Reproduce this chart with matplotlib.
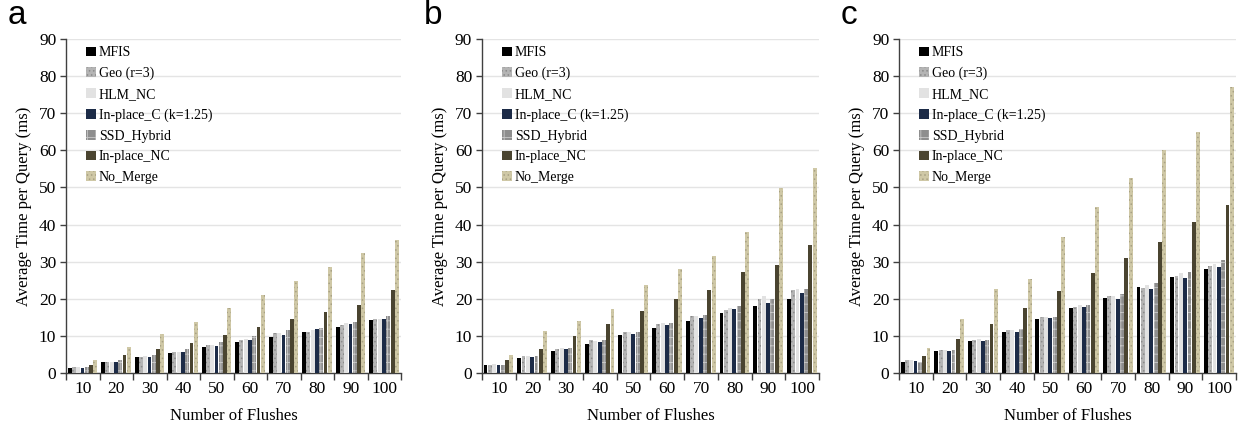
import matplotlib
matplotlib.use("Agg")
import matplotlib.pyplot as plt
import numpy as np

flushes = ["10", "20", "30", "40", "50", "60", "70", "80", "90", "100"]
series_names = ["MFIS", "Geo (r=3)", "HLM_NC", "In-place_C (k=1.25)", "SSD_Hybrid", "In-place_NC", "No_Merge"]

# Panel a
a_mfis = [1.3, 3.0, 4.1, 5.3, 6.8, 8.3, 9.7, 11.0, 12.2, 14.2]
a_geo = [1.4, 3.0, 4.3, 5.7, 7.4, 8.8, 10.6, 11.1, 13.0, 14.4]
a_hlm = [1.4, 3.0, 4.4, 5.7, 7.4, 9.0, 10.6, 11.6, 13.4, 14.6]
a_inc = [1.3, 2.9, 4.2, 5.6, 7.3, 8.8, 10.3, 11.7, 13.1, 14.6]
a_ssd = [1.5, 3.3, 4.8, 6.4, 8.2, 9.9, 11.5, 12.1, 13.7, 15.3]
a_innc = [2.0, 4.7, 6.4, 7.9, 10.2, 12.2, 14.4, 16.3, 18.4, 22.3]
a_nomerge = [3.3, 6.8, 10.4, 13.8, 17.4, 20.9, 24.7, 28.4, 32.2, 35.8]

# Panel b
b_mfis = [2.0, 4.0, 5.8, 7.7, 10.1, 12.0, 14.0, 16.0, 18.0, 19.9]
b_geo = [2.2, 4.4, 6.5, 8.7, 11.0, 13.2, 15.4, 16.8, 19.8, 22.2]
b_hlm = [2.3, 4.5, 6.7, 8.5, 11.1, 13.5, 15.4, 17.5, 20.7, 22.7]
b_inc = [2.0, 4.2, 6.3, 8.2, 10.4, 12.8, 14.8, 17.2, 18.8, 21.5]
b_ssd = [2.1, 4.5, 6.6, 8.7, 11.0, 13.5, 15.7, 17.9, 20.0, 22.7]
b_innc = [3.3, 6.5, 9.9, 13.1, 16.7, 19.9, 22.4, 27.1, 29.1, 34.5]
b_nomerge = [4.8, 11.2, 13.9, 17.2, 23.6, 28.0, 31.4, 38.1, 49.8, 55.2]

# Panel c
c_mfis = [2.8, 5.8, 8.5, 11.0, 14.5, 17.4, 20.2, 23.2, 25.7, 28.0]
c_geo = [3.4, 6.1, 8.8, 11.6, 14.9, 17.7, 20.8, 22.8, 26.0, 28.7]
c_hlm = [3.5, 6.2, 9.2, 11.5, 14.9, 18.2, 20.6, 23.6, 27.0, 29.4]
c_inc = [3.1, 5.9, 8.6, 11.1, 14.7, 17.7, 20.0, 22.6, 25.6, 28.4]
c_ssd = [3.0, 6.1, 8.9, 11.8, 15.0, 18.3, 21.3, 24.2, 27.3, 30.3]
c_innc = [4.6, 9.0, 13.2, 17.4, 22.1, 26.8, 30.9, 35.3, 40.7, 45.3]
c_nomerge = [6.6, 14.6, 22.6, 25.3, 36.6, 44.8, 52.6, 60.2, 65.1, 77.1]

panels = [
    ("a", [a_mfis, a_geo, a_hlm, a_inc, a_ssd, a_innc, a_nomerge]),
    ("b", [b_mfis, b_geo, b_hlm, b_inc, b_ssd, b_innc, b_nomerge]),
    ("c", [c_mfis, c_geo, c_hlm, c_inc, c_ssd, c_innc, c_nomerge]),
]

face_colors = ["#000000", "#b4b4b4", "#e2e2e2", "#1c2b47", "#8e8e8e", "#4a4430", "#cfc8a6"]
hatch_colors = [None, "#8a8a8a", "#c8c8c8", None, "#c8c8c8", None, "#a8a184"]
hatches = [None, "....", None, None, "++", None, "...."]

plt.rcParams["font.family"] = ["Liberation Serif", "DejaVu Serif"]
plt.rcParams["hatch.linewidth"] = 0.6

fig = plt.figure(figsize=(12.46, 4.3), dpi=100)
lefts = [0.053, 0.3868, 0.7215]
widths = [0.2689, 0.2705, 0.2705]
bottom, top = 0.1333, 0.9086

n = len(series_names)
bw = 0.128
x = np.arange(len(flushes))

for (label, data), left, width in zip(panels, lefts, widths):
    ax = fig.add_axes([left, bottom, width, top - bottom])
    for i, vals in enumerate(data):
        offs = -0.01 + (i - (n - 1) / 2) * bw
        if hatches[i]:
            kw = dict(hatch=hatches[i], edgecolor=hatch_colors[i], linewidth=0)
        else:
            kw = dict(edgecolor="none", linewidth=0)
        ax.bar(x + offs, vals, width=bw * 0.9, color=face_colors[i],
               zorder=3, label=series_names[i], **kw)
    ax.set_xlim(-0.5, len(flushes) - 0.5)
    ax.set_ylim(0, 90)
    ax.set_yticks(np.arange(0, 91, 10))
    ax.yaxis.grid(True, color="#e4e4e4", linewidth=1.0, zorder=0)
    ax.set_axisbelow(True)
    ax.set_xticks(np.arange(-0.5, len(flushes), 1.0))
    ax.set_xticklabels([])
    ax.set_xticks(x, minor=True)
    ax.set_xticklabels(flushes, minor=True, fontsize=12.5)
    ax.tick_params(axis="x", which="minor", length=0, pad=6)
    ax.tick_params(axis="x", which="major", length=5, width=1, color="#404040", direction="out")
    ax.tick_params(axis="y", length=4, width=1, color="#404040", labelsize=12.5, pad=3)
    for s in ["top", "right"]:
        ax.spines[s].set_visible(False)
    for s in ["left", "bottom"]:
        ax.spines[s].set_color("#404040")
        ax.spines[s].set_linewidth(1.0)
    ax.set_ylabel("Average Time per Query (ms)", fontsize=12, labelpad=5)
    ax.set_xlabel("Number of Flushes", fontsize=12, labelpad=8)
    ax.legend(loc="upper left", bbox_to_anchor=(0.04, 1.0), frameon=False,
              fontsize=10, handlelength=0.7, handleheight=0.7, handletextpad=0.2,
              labelspacing=0.55, borderaxespad=0.1)
    fig.text(left - 0.047, 0.965, label, fontsize=24, family="Liberation Sans",
             va="center", ha="left")

fig.savefig("out.png", dpi=100)
